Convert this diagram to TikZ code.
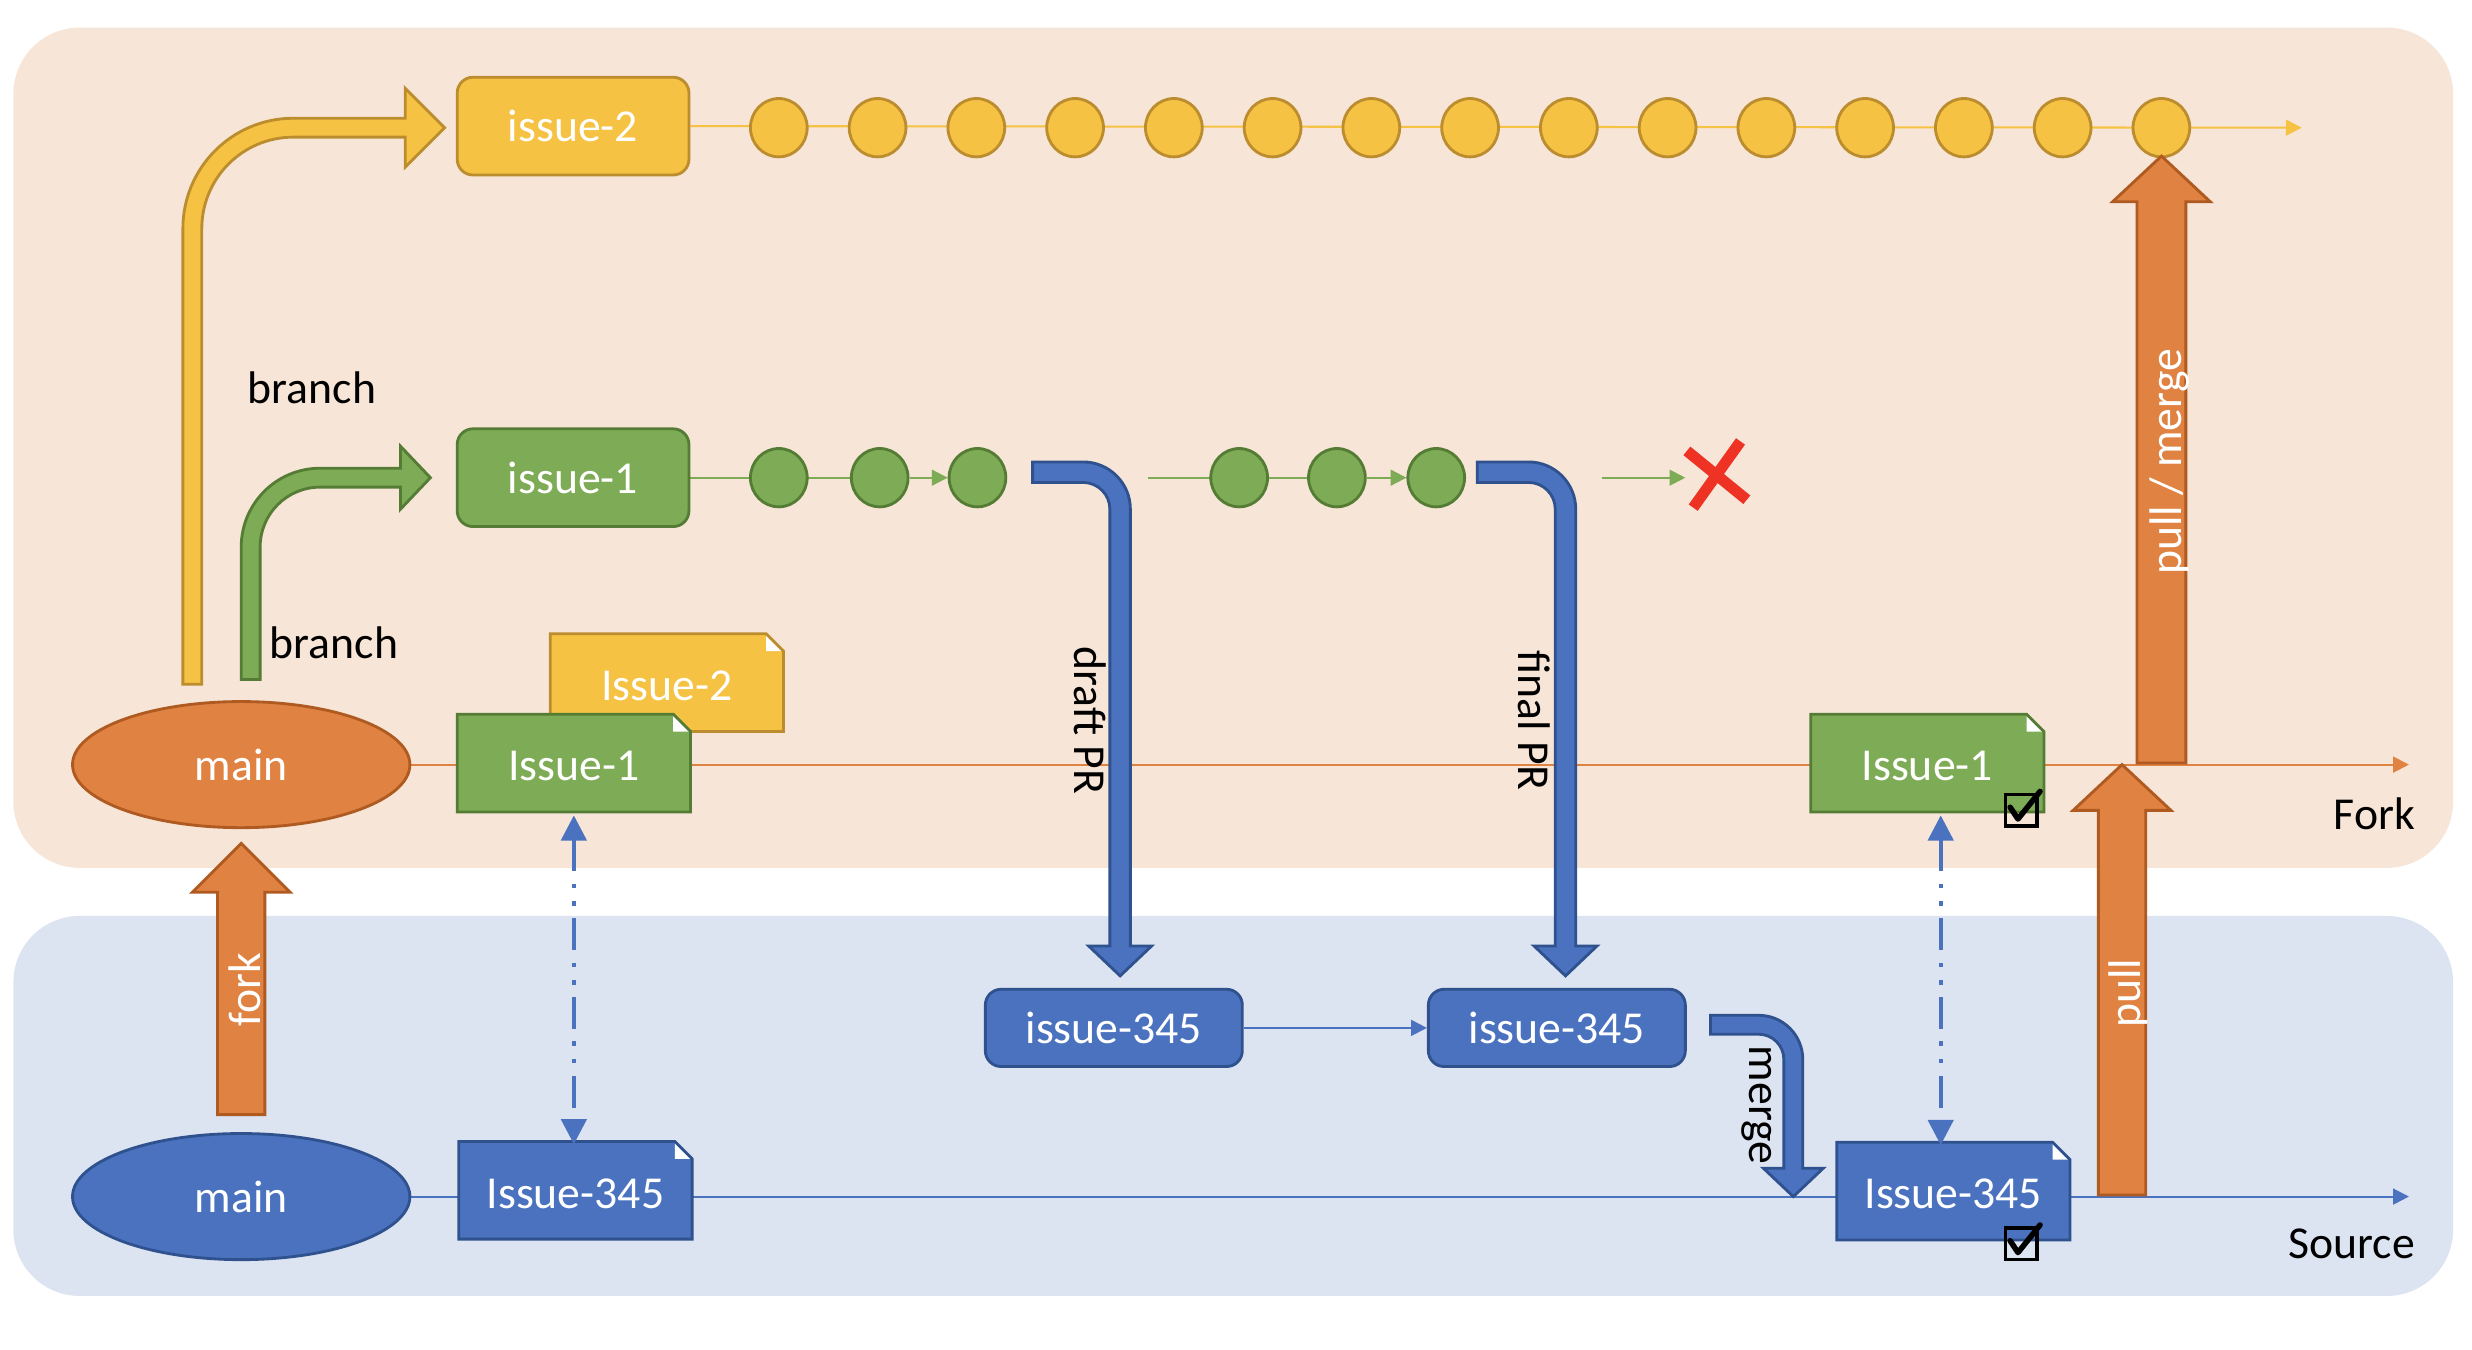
\documentclass[tikz,border=0pt]{standalone}
\usepackage{fontspec}
\setmainfont{Carlito}
\usetikzlibrary{arrows.meta,shapes.geometric}
\definecolor{bgpeach}{HTML}{F7E5D7}
\definecolor{bgblue}{HTML}{DCE3F1}
\definecolor{orF}{HTML}{E08241}
\definecolor{orD}{HTML}{AE5A21}
\definecolor{yeF}{HTML}{F5C243}
\definecolor{yeD}{HTML}{BC8D2E}
\definecolor{grF}{HTML}{7EAB55}
\definecolor{grD}{HTML}{557C35}
\definecolor{blF}{HTML}{4A72BF}
\definecolor{blD}{HTML}{2F528F}
\definecolor{xred}{HTML}{EE3224}
\pgfdeclarelayer{back}
\pgfdeclarelayer{lines}
\pgfsetlayers{back,lines,main}
\tikzset{
  rbox/.style 2 args={rectangle, rounded corners=10pt, fill=#1, draw=#2, line width=1.8pt, text=white, inner sep=0pt},
  circ/.style 2 args={ellipse, fill=#1, draw=#2, line width=1.8pt, minimum width=36pt, minimum height=37pt, inner sep=0pt},
  mainell/.style 2 args={ellipse, fill=#1, draw=#2, line width=1.8pt, minimum width=214pt, minimum height=80pt, inner sep=0pt, text=white},
  doclabel/.style={rectangle, inner sep=0pt, minimum width=148pt, minimum height=62pt, text=white},
  thinl/.style={line width=1.3pt},
  smalltip/.style={-{Triangle[length=10pt,width=10pt]}},
  dashdotarrow/.style={blF, line width=2.6pt, dash pattern=on 20pt off 8pt on 3pt off 8pt on 3pt off 8pt,
     {Triangle[length=16pt,width=16pt]}-{Triangle[length=16pt,width=16pt]}},
  bentarrow/.style 2 args={fill=#1, draw=#2, line width=1.8pt, line join=miter},
  blocklabel/.style={text=white, inner sep=0pt},
  blacklabel/.style={text=black, inner sep=0pt}
}
\newcommand\mydocshape[6]{%
  \fill[#4] (#2-74,#3-31) -- (#2+63,#3-31) -- (#2+74,#3-20) -- (#2+74,#3+31) -- (#2-74,#3+31) -- cycle;
  \fill[white] (#2+63,#3-31) -- (#2+63,#3-20) -- (#2+74,#3-20) -- cycle;
  \draw[#5, line width=1.8pt, line join=miter] (#2-74,#3-31) -- (#2+63,#3-31) -- (#2+74,#3-20) -- (#2+74,#3+31) -- (#2-74,#3+31) -- cycle;
  \node[doclabel] (#1) at (#2,#3+2) {#6};
}
\newcommand\myuparrow[6]{%
  \filldraw[fill=orF, draw=orD, line width=1.8pt, line join=miter] (#1-#5,#2) -- (#1-#5,#3) -- (#1-#6,#3) -- (#1,#4) -- (#1+#6,#3) -- (#1+#5,#3) -- (#1+#5,#2) -- cycle;
}
\newcommand\mycheckbox[2]{%
  \draw[black, line width=2.2pt] (#1-10,#2-10) rectangle (#1+10,#2+10);
  \draw[black, line width=3.5pt, line join=round, line cap=round] (#1-7,#2-2) -- (#1-2,#2+5.5) -- (#1+12,#2-12);
}
\begin{document}
\begin{tikzpicture}[x=1pt,y=-1pt, every node/.append style={font=\fontsize{29}{35}\selectfont}]
\useasboundingbox (0,0) rectangle (1568,856);
\begin{pgfonlayer}{back}
  \fill[bgpeach, rounded corners=42pt] (8.5,17.5) rectangle (1556,550.5);
  \fill[bgblue, rounded corners=42pt] (8.5,581) rectangle (1556,822);
\end{pgfonlayer}

% ---- nodes
\node[rbox={yeF}{yeD}, minimum width=147pt, minimum height=62pt] (issue2) at (363.5,80) {issue-2};
\node[rbox={grF}{grD}, minimum width=147pt, minimum height=62pt] (issue1) at (363.5,303) {issue-1};
\node[rbox={blF}{blD}, minimum width=163pt, minimum height=49pt] (pr1) at (706.5,652) {issue-345};
\node[rbox={blF}{blD}, minimum width=163pt, minimum height=49pt] (pr2) at (987.5,652) {issue-345};
\node[mainell={orF}{orD}] (mainF) at (153,485) {main};
\node[mainell={blF}{blD}] (mainS) at (153,759) {main};

\foreach \k in {1,...,15} \node[circ={yeF}{yeD}] (y\k) at ({494+62.64*(\k-1)},81) {};
\node[circ={grF}{grD}] (g1) at (494,303) {};
\node[circ={grF}{grD}] (g2) at (558,303) {};
\node[circ={grF}{grD}] (g3) at (620,303) {};
\node[circ={grF}{grD}] (g4) at (786,303) {};
\node[circ={grF}{grD}] (g5) at (848,303) {};
\node[circ={grF}{grD}] (g6) at (911,303) {};

\mydocshape{iss2}{423}{433}{yeF}{yeD}{Issue-2}
\mydocshape{iss1L}{364}{484}{grF}{grD}{Issue-1}
\mydocshape{iss345L}{365}{755}{blF}{blD}{Issue-345}
\mydocshape{iss1R}{1222.5}{484}{grF}{grD}{Issue-1}
\mydocshape{iss345R}{1239}{755.5}{blF}{blD}{Issue-345}

\coordinate (yend) at (1460,81);
\coordinate (gs2) at (728,303);
\coordinate (gs3) at (1016,303);
\coordinate (gx) at (1069,303);
\coordinate (forkend) at (1528,485);
\coordinate (srcend) at (1528,759);

% ---- thin connectors (behind nodes)
\begin{pgfonlayer}{lines}
  \draw[yeF, thinl, smalltip] (issue2.east) -- (yend);
  \draw[grF, thinl] (issue1.east) -- (g2.center);
  \draw[grF, thinl, smalltip] (g2) -- (g3);
  \draw[grF, thinl] (gs2) -- (g5.center);
  \draw[grF, thinl, smalltip] (g5) -- (g6);
  \draw[grF, thinl, smalltip] (gs3) -- (gx);
  \draw[blF, thinl, smalltip] (pr1) -- (pr2);
  \draw[orF, thinl, smalltip] (mainF.east) -- (forkend);
  \draw[blF, thinl, smalltip] (mainS.east) -- (srcend);
\end{pgfonlayer}

% ---- bent arrows
\filldraw[bentarrow={yeF}{yeD}] (116,434) -- (116,145) arc[start angle=180,end angle=270,radius=70] -- (257,75) -- (257,56) -- (282,81) -- (257,106) -- (257,87) -- (186,87) arc[start angle=270,end angle=180,radius=58] -- (128,434) -- cycle;
\filldraw[bentarrow={grF}{grD}] (153,431) -- (153,347) arc[start angle=180,end angle=270,radius=50] -- (254,297) -- (254,283) -- (273,303) -- (254,323) -- (254,309) -- (203,309) arc[start angle=270,end angle=180,radius=38] -- (165,431) -- cycle;
\filldraw[bentarrow={blF}{blD}] (655,293) -- (687,293) arc[start angle=270,end angle=360,radius=30] -- (717,600) -- (730.5,600) -- (710.5,619) -- (690.5,600) -- (704,600) -- (704,323) arc[start angle=0,end angle=-90,radius=17] -- (655,306) -- cycle;
\filldraw[bentarrow={blF}{blD}] (937,293) -- (969.5,293) arc[start angle=270,end angle=360,radius=30] -- (999.5,600) -- (1013,600) -- (993,619) -- (973,600) -- (986.5,600) -- (986.5,323) arc[start angle=0,end angle=-90,radius=17] -- (937,306) -- cycle;
\filldraw[bentarrow={blF}{blD}] (1085,644) -- (1115.5,644) arc[start angle=270,end angle=360,radius=28] -- (1143.5,741) -- (1156.5,741) -- (1137.5,759) -- (1118.5,741) -- (1131.5,741) -- (1131.5,672) arc[start angle=0,end angle=-90,radius=16] -- (1085,656) -- cycle;

% ---- block arrows
\myuparrow{153}{707}{566}{535}{15}{31}
\myuparrow{1346}{758}{514}{485}{15}{31}
\myuparrow{1371}{484}{128}{99}{15.5}{31}

% ---- dash-dot links
\draw[dashdotarrow] (iss1L.south) -- (iss1L.south |- iss345L.north);
\draw[dashdotarrow] ([xshift=8.5pt]iss1R.south) -- ([xshift=8.5pt]iss1R.south |- iss345R.north);

% ---- red cross
\draw[xred, line width=7pt] (1070,286) -- (1108,317);
\draw[xred, line width=7pt] (1104,280) -- (1074,322);

% ---- check boxes
\mycheckbox{1282}{514}
\mycheckbox{1282}{789}

% ---- labels
\node[blacklabel, anchor=west] (lbranch1) at (157,246) {branch};
\node[blacklabel, anchor=west] (lbranch2) at (171,408) {branch};
\node[blacklabel, rotate=-90] (ldraft) at (691.5,457) {draft PR};
\node[blacklabel, rotate=-90] (lfinal) at (973,457) {final PR};
\node[blacklabel, rotate=-90] (lmerge) at (1114,701) {merge};
\node[blocklabel, rotate=90] (lfork) at (155,628) {fork};
\node[blocklabel, rotate=90] (lpull) at (1350,630) {pull};
\node[blocklabel, rotate=90] (lpm) at (1376,293) {pull / merge};
\node[blacklabel, anchor=east] (lforklane) at (1532,516) {Fork};
\node[blacklabel, anchor=east] (lsrclane) at (1532,789) {Source};
\end{tikzpicture}
\end{document}
